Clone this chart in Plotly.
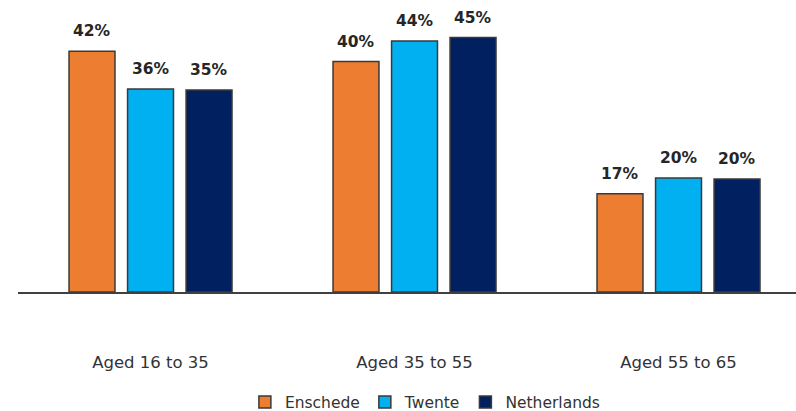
import plotly.graph_objects as go

# Age groups and share per area (%)
categories = ["Aged 16 to 35", "Aged 35 to 55", "Aged 55 to 65"]
enschede = [42.2, 40.4, 17.2]
twente = [35.6, 44.0, 20.0]
netherlands = [35.4, 44.6, 19.8]

series = [
    ("Enschede", enschede, "#ED7D31"),
    ("Twente", twente, "#00B0F0"),
    ("Netherlands", netherlands, "#002060"),
]

BARGAP = 0.335
BARGROUPGAP = 0.215
slot = (1 - BARGAP) / len(series)

FONT = "Verdana, DejaVu Sans, sans-serif"
TEXT_COLOR = "#333333"

fig = go.Figure()
annotations = []
x_idx = list(range(len(categories)))

for k, (name, vals, color) in enumerate(series):
    fig.add_trace(go.Bar(
        name=name,
        x=x_idx,
        y=vals,
        marker=dict(color=color, line=dict(color="#3a3a3a", width=1.5)),
    ))
    offset = (k - (len(series) - 1) / 2) * slot
    for i, v in zip(x_idx, vals):
        annotations.append(dict(
            x=i + offset, y=v, xref="x", yref="y",
            text=f"{v:.0f}%", showarrow=False,
            yanchor="bottom", yshift=9,
            font=dict(family=FONT, size=15.5, color="#262626", weight="bold"),
        ))

fig.update_layout(
    width=796, height=411,
    margin=dict(l=18, r=0, t=10, b=119, autoexpand=False),
    paper_bgcolor="white", plot_bgcolor="white",
    barmode="group", bargap=BARGAP, bargroupgap=BARGROUPGAP,
    annotations=annotations,
    showlegend=True,
    legend=dict(
        orientation="h", x=0.523, xanchor="center", y=-0.452, yanchor="bottom",
        font=dict(family=FONT, size=15.5, color=TEXT_COLOR),
        itemclick=False, itemdoubleclick=False,
    ),
    xaxis=dict(
        range=[-0.502, 2.445],
        tickvals=x_idx, ticktext=categories,
        showgrid=False, zeroline=False, automargin=False,
        showline=True, linecolor="#404040", linewidth=1.5,
        ticks="", ticklabelstandoff=54,
        tickfont=dict(family=FONT, size=16.5, color=TEXT_COLOR),
    ),
    yaxis=dict(
        range=[0, 49.43], visible=False, showgrid=False, zeroline=False,
        automargin=False,
    ),
)

fig.write_html("out.html")
